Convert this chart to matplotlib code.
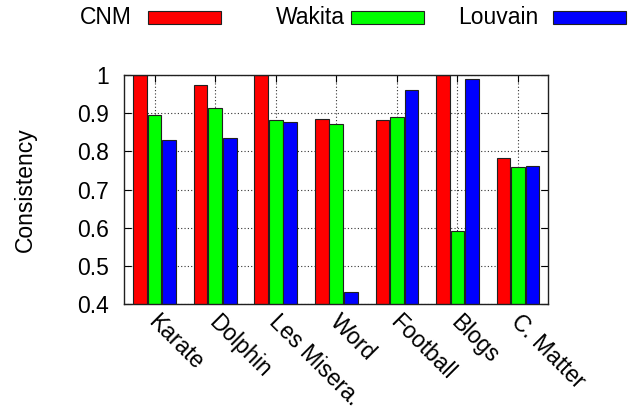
import numpy as np
import matplotlib.pyplot as plt
from matplotlib.patches import Rectangle
from matplotlib.transforms import ScaledTranslation

# Данные
datasets = ['Karate', 'Dolphin', 'Les Misera.', 'Word', 'Football', 'Blogs', 'C. Matter']
cnm = [1.0, 0.974, 1.0, 0.886, 0.883, 1.0, 0.782]
wakita = [0.896, 0.913, 0.883, 0.873, 0.890, 0.592, 0.758]
louvain = [0.831, 0.835, 0.877, 0.432, 0.960, 0.990, 0.762]
series_names = ['CNM', 'Wakita', 'Louvain']
colors = ['#ff0000', '#00ff00', '#0000ff']

plt.rcParams['font.family'] = ['Liberation Sans', 'DejaVu Sans']
fs = 16.5

fig = plt.figure(figsize=(6.39, 4.12), dpi=100)
ax = fig.add_axes([124.3/639, 1 - 304.3/412, 424/639, 229.3/412])

x = np.arange(len(datasets))
w = 0.225
step = 0.24
for k, vals in enumerate([cnm, wakita, louvain]):
    ax.bar(x + (k - 1)*step, vals, width=w, color=colors[k],
           edgecolor='#202020', linewidth=0.8, zorder=2)

ax.set_xlim(-0.5, len(datasets) - 0.5)
ax.set_ylim(0.4, 1.0)
ax.set_yticks(np.arange(0.4, 1.01, 0.1))
ax.set_yticklabels(['%g' % round(v, 1) for v in np.arange(0.4, 1.01, 0.1)])
ax.set_xticks(x)
ax.set_xticklabels(datasets)
ax.set_axisbelow(True)
ax.grid(True, linestyle=(0, (1, 2)), color='#333333', linewidth=0.8)
ax.tick_params(axis='y', direction='in', length=5, width=0.8, left=True, right=True,
               labelsize=fs, pad=11)
ax.tick_params(axis='x', direction='in', length=5, width=0.8, top=True, labelsize=fs, pad=3)
for sp in ax.spines.values():
    sp.set_linewidth(1.0)
    sp.set_color('#202020')

# Подписи оси Ox под углом -45
for lab in ax.get_xticklabels():
    lab.set_rotation(-45)
    lab.set_ha('left')
    lab.set_va('top')
    lab.set_rotation_mode('anchor')
    lab.set_transform(lab.get_transform() + ScaledTranslation(5/100, -2/100, fig.dpi_scale_trans))

fig.text(25/639, 1 - 190/412, 'Consistency', rotation=90, ha='center', va='center', fontsize=fs)

# Легенда сверху: текст справа выровнен, затем образец
text_right = [132, 345, 538]
box_left = [148, 351, 553]
for k in range(3):
    fig.text(text_right[k]/639, 1 - 17.5/412, series_names[k], ha='right', va='center', fontsize=fs)
    fig.patches.append(Rectangle((box_left[k]/639, 1 - 24/412), 73/639, 13/412,
                                 transform=fig.transFigure, facecolor=colors[k],
                                 edgecolor='#202020', linewidth=0.8))

fig.savefig('out.png', dpi=100)
